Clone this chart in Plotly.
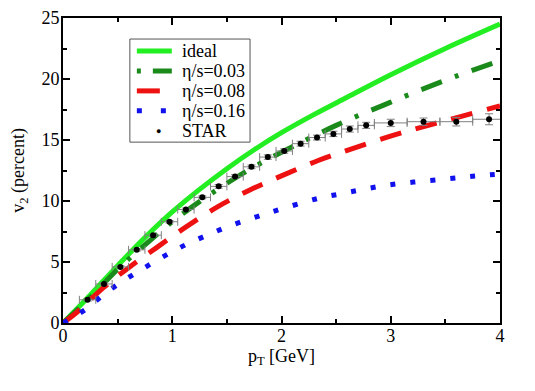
import plotly.graph_objects as go

# hydro curves (pT in GeV, v2 in percent)
pt_ideal = [0, 0.25, 0.5, 0.75, 1.0, 1.25, 1.5, 1.75, 2.0, 2.3, 2.6, 3.0, 3.5, 4.0]
v2_ideal = [0, 2.3, 4.7, 7.0, 9.1, 10.95, 12.65, 14.2, 15.6, 17.1, 18.5, 20.35, 22.5, 24.5]

pt_003 = [0, 0.25, 0.5, 0.75, 1.0, 1.25, 1.5, 1.75, 2.0, 2.5, 3.0, 3.5, 4.0]
v2_003 = [0, 2.1, 4.4, 6.4, 8.3, 9.95, 11.45, 12.8, 14.0, 16.2, 18.1, 19.9, 21.5]

pt_008 = [0, 0.13, 0.37, 0.61, 0.86, 1.13, 1.41, 1.71, 2.01, 2.33, 2.65, 2.99, 3.3, 3.63, 4.0]
v2_008 = [0, 0.9, 2.9, 4.6, 6.2, 7.9, 9.5, 10.9, 12.1, 13.3, 14.3, 15.3, 16.1, 16.9, 17.8]

pt_016 = [0, 0.22, 0.38, 0.56, 0.74, 0.93, 1.12, 1.32, 1.51, 1.91, 2.33, 2.55, 2.97, 3.5, 3.84, 4.0]
v2_016 = [0, 1.2, 2.4, 3.5, 4.5, 5.5, 6.4, 7.2, 7.9, 9.1, 10.2, 10.6, 11.3, 11.8, 12.1, 12.2]

# STAR data
pt_star = [0.225, 0.375, 0.525, 0.675, 0.825, 0.975, 1.125, 1.275, 1.425, 1.575, 1.725,
           1.875, 2.025, 2.175, 2.325, 2.475, 2.625, 2.775, 3.0, 3.3, 3.6, 3.9]
v2_star = [1.9, 3.2, 4.6, 6.0, 7.2, 8.3, 9.3, 10.3, 11.2, 12.0, 12.8,
           13.6, 14.1, 14.7, 15.2, 15.5, 15.9, 16.2, 16.4, 16.5, 16.5, 16.7]
dpt_star = [0.075] * 18 + [0.15] * 4
dv2_star = [0.1, 0.1, 0.1, 0.1, 0.1, 0.1, 0.12, 0.12, 0.15, 0.15, 0.15,
            0.18, 0.18, 0.2, 0.2, 0.22, 0.25, 0.25, 0.3, 0.3, 0.35, 0.45]

serif = "Liberation Serif"

# name, x, y, colour, dash in plot, dash in legend sample
curves = [
    ("ideal", pt_ideal, v2_ideal, "#22ee22", "solid", "solid"),
    ("η/s=0.03", pt_003, v2_003, "#1a8a1a", "22px,14px,4px,14px", "4px,12px,19px,20px"),
    ("η/s=0.08", pt_008, v2_008, "#ee1111", "22px,15px", "23px,15px"),
    ("η/s=0.16", pt_016, v2_016, "#1111ee", "5px,15px", "5px,19px"),
]

fig = go.Figure()
for name, x, y, col, dash, _ in curves:
    fig.add_trace(go.Scatter(x=x, y=y, mode="lines", name=name, showlegend=False,
                             line=dict(color=col, width=5, shape="spline", dash=dash)))
fig.add_trace(go.Scatter(x=pt_star, y=v2_star, mode="markers", name="STAR", showlegend=False,
                         marker=dict(color="black", size=6),
                         error_x=dict(type="data", array=dpt_star, color="gray",
                                      thickness=1, width=4),
                         error_y=dict(type="data", array=dv2_star, color="gray",
                                      thickness=1, width=4)))

# hand-made legend box (paper coords) so the rows sit as tight as in the original
box_x0, box_x1, box_y0, box_y1 = 0.153, 0.428, 0.593, 0.931
row_y0, row_step = 0.892, 0.0655
smp_x0, smp_x1, txt_x = 0.169, 0.249, 0.268
fig.add_shape(type="rect", xref="paper", yref="paper", x0=box_x0, x1=box_x1,
              y0=box_y0, y1=box_y1, line=dict(color="#555", width=1), fillcolor="white",
              layer="above")
names = [c[0] for c in curves] + ["STAR"]
for i, name in enumerate(names):
    yy = row_y0 - i * row_step
    if i < len(curves):
        col, sdash = curves[i][3], curves[i][5]
        fig.add_shape(type="line", xref="paper", yref="paper", x0=smp_x0, x1=smp_x1,
                      y0=yy, y1=yy, line=dict(color=col, width=5, dash=sdash), layer="above")
    else:
        fig.add_annotation(x=(smp_x0 + smp_x1) / 2, y=yy, xref="paper", yref="paper",
                           text="●", showarrow=False, font=dict(size=9, color="black"))
    fig.add_annotation(x=txt_x, y=yy, xref="paper", yref="paper", text=name,
                       showarrow=False, xanchor="left", yanchor="middle",
                       font=dict(family=serif, size=18, color="black"))

axis_common = dict(showgrid=False, zeroline=False, showline=True, linecolor="black",
                   linewidth=2, mirror="allticks", ticks="inside", ticklen=7,
                   tickwidth=1.5, tickcolor="black", automargin=False,
                   tickfont=dict(family=serif, size=18, color="black"))

fig.update_xaxes(range=[0, 4], dtick=1, tick0=0, ticklabelstandoff=-5,
                 minor=dict(ticks="inside", dtick=0.5, ticklen=4, tickcolor="black"),
                 title=dict(text="p<sub>T</sub> [GeV]", standoff=0,
                            font=dict(family=serif, size=18, color="black")),
                 **axis_common)
fig.update_yaxes(range=[0, 25], dtick=5, tick0=0, ticklabelstandoff=-2,
                 minor=dict(ticks="inside", dtick=2.5, ticklen=4, tickcolor="black"),
                 title=dict(text="v<sub>2</sub> (percent)", standoff=16,
                            font=dict(family=serif, size=18, color="black")),
                 **axis_common)

# page body adds an 8px offset, so margins are shifted to keep the plot box in place
fig.update_layout(width=535, height=391,
                  margin=dict(l=55, r=43, t=10, b=76),
                  plot_bgcolor="white", paper_bgcolor="white",
                  font=dict(family=serif, color="black"),
                  showlegend=False)

fig.write_html("out.html")
